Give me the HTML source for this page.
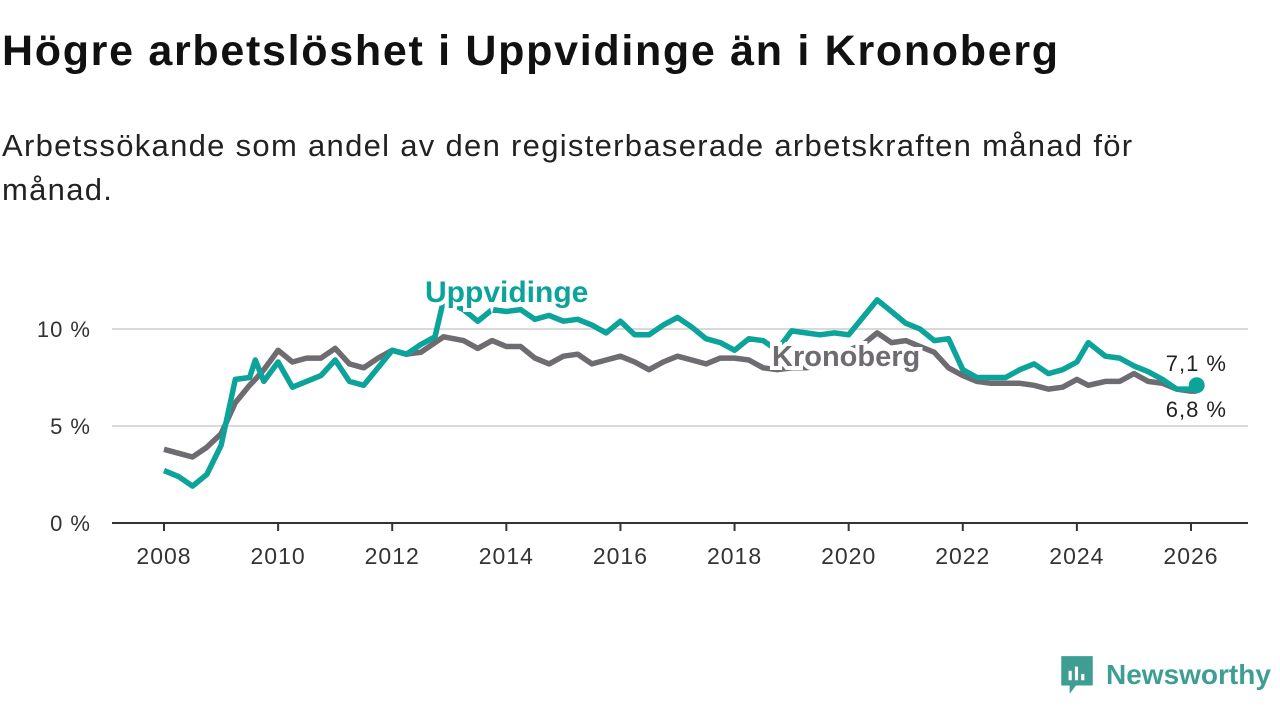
<!DOCTYPE html>
<html><head><meta charset="utf-8"><style>
body{margin:0;width:1280px;height:720px;background:#fff;font-family:"Liberation Sans","DejaVu Sans",sans-serif;overflow:hidden;position:relative}
h1{position:absolute;left:2px;top:27px;margin:0;font-size:43px;font-weight:bold;color:#111;letter-spacing:1.7px}
p{position:absolute;left:2px;top:124px;margin:0;font-size:31px;line-height:44px;color:#222;width:1200px;letter-spacing:1.3px}
svg{position:absolute;left:0;top:0}
</style></head><body>
<h1>Högre arbetslöshet i Uppvidinge än i Kronoberg</h1>
<p>Arbetssökande som andel av den registerbaserade arbetskraften månad för månad.</p>
<svg id="c" width="1280" height="720"></svg>
<script>
const times=[2008,2008.25,2008.5,2008.75,2009,2009.25,2009.5,2009.6,2009.75,2010,2010.25,2010.5,2010.75,2011,2011.25,2011.5,2011.75,2012,2012.25,2012.5,2012.75,2012.9,2013.25,2013.5,2013.75,2014,2014.25,2014.5,2014.75,2015,2015.25,2015.5,2015.75,2016,2016.25,2016.5,2016.75,2017,2017.25,2017.5,2017.75,2018,2018.25,2018.5,2018.75,2019,2019.25,2019.5,2019.75,2020,2020.25,2020.5,2020.75,2021,2021.25,2021.5,2021.75,2022,2022.25,2022.5,2022.75,2023,2023.25,2023.5,2023.75,2024,2024.2,2024.5,2024.75,2025,2025.25,2025.5,2025.75,2026,2026.1];
const uppvidinge=[2.7,2.4,1.9,2.5,4.0,7.4,7.5,8.4,7.3,8.3,7.0,7.3,7.6,8.4,7.3,7.1,8.0,8.9,8.7,9.2,9.6,11.5,11.0,10.4,11.0,10.9,11.0,10.5,10.7,10.4,10.5,10.2,9.8,10.4,9.7,9.7,10.2,10.6,10.1,9.5,9.3,8.9,9.5,9.4,8.9,9.9,9.8,9.7,9.8,9.7,10.6,11.5,10.9,10.3,10.0,9.4,9.5,7.9,7.5,7.5,7.5,7.9,8.2,7.7,7.9,8.3,9.3,8.6,8.5,8.1,7.8,7.4,6.9,6.9,7.1];
const kronoberg=[3.8,3.6,3.4,3.9,4.6,6.2,7.1,7.4,7.9,8.9,8.3,8.5,8.5,9.0,8.2,8.0,8.5,8.9,8.7,8.8,9.3,9.6,9.4,9.0,9.4,9.1,9.1,8.5,8.2,8.6,8.7,8.2,8.4,8.6,8.3,7.9,8.3,8.6,8.4,8.2,8.5,8.5,8.4,8.0,7.9,8.0,8.0,8.1,8.3,8.9,9.2,9.8,9.3,9.4,9.1,8.8,8.0,7.6,7.3,7.2,7.2,7.2,7.1,6.9,7.0,7.4,7.1,7.3,7.3,7.7,7.3,7.2,6.9,6.8,6.8];
const yTicks=[0,5,10];
const yTickLabels=["0 %","5 %","10 %"];
const xTicks=[2008,2010,2012,2014,2016,2018,2020,2022,2024,2026];
const NS="http://www.w3.org/2000/svg";
const svg=document.getElementById('c');
const X=t=>164+(t-2008)*(1191-164)/18;
const Y=v=>523-v*19.4;
function mk(tag,attrs,txt){const e=document.createElementNS(NS,tag);for(const k in attrs)e.setAttribute(k,attrs[k]);if(txt!=null)e.textContent=txt;svg.appendChild(e);return e;}
yTicks.forEach((v,i)=>{
  if(v>0){const g=mk('line',{x1:112,x2:1248,y1:Y(v),y2:Y(v),stroke:'#d9d9d9','stroke-width':2});
  
  }
  const t=mk('text',{x:91,y:Y(v)+8,'text-anchor':'end','font-size':22,'letter-spacing':1,fill:'#333'},yTickLabels[i]);
  
  
});
const ax=mk('line',{x1:112,x2:1248,y1:523,y2:523,stroke:'#333','stroke-width':2});


xTicks.forEach(y=>{
  const l=mk('line',{x1:X(y),x2:X(y),y1:523,y2:531,stroke:'#333','stroke-width':2});
  
  
  const t=mk('text',{x:X(y),y:564,'text-anchor':'middle','font-size':23,'letter-spacing':1,fill:'#333'},String(y));
  
  
});
function path(arr){return arr.map((v,i)=>(i?'L':'M')+X(times[i]).toFixed(1)+' '+Y(v).toFixed(1)).join(' ');}
const pk=mk('path',{d:path(kronoberg),fill:'none',stroke:'#6e6b71','stroke-width':5.5,'stroke-linejoin':'round'});


const pu=mk('path',{d:path(uppvidinge),fill:'none',stroke:'#0ca39a','stroke-width':5.5,'stroke-linejoin':'round'});


const n=times.length-1;
const dot=mk('circle',{cx:X(times[n]),cy:Y(uppvidinge[n]),r:8,fill:'#0ca39a'});


const l1=mk('text',{x:425,y:302,'font-size':30,'font-weight':'bold',fill:'#0ca39a',stroke:'#fff','stroke-width':8,'paint-order':'stroke'},'Uppvidinge');


const l2=mk('text',{x:772,y:366,'font-size':29,'font-weight':'bold',fill:'#6e6b71',stroke:'#fff','stroke-width':8,'paint-order':'stroke'},'Kronoberg');


const v1=mk('text',{x:1227,y:371,'text-anchor':'end','font-size':22,'letter-spacing':1,fill:'#222',stroke:'#fff','stroke-width':5,'paint-order':'stroke'},'7,1 %');


const v2=mk('text',{x:1227,y:417,'text-anchor':'end','font-size':22,'letter-spacing':1,fill:'#222',stroke:'#fff','stroke-width':5,'paint-order':'stroke'},'6,8 %');


</script>
<div style="position:absolute;left:1059px;top:654px;display:flex;align-items:center">
<svg width="36" height="42" viewBox="0 0 34 40" style="position:static"><path d="M2 2h30v28H16l-6 8v-8H2z" fill="#3f9e94"/><rect x="9" y="16" width="3" height="9" fill="#fff"/><rect x="15" y="12" width="3" height="13" fill="#fff"/><rect x="21" y="19" width="3" height="6" fill="#fff"/></svg>
<span style="font-size:28px;color:#3f9e94;margin-left:11px;font-weight:bold">Newsworthy</span></div>
</body></html>
